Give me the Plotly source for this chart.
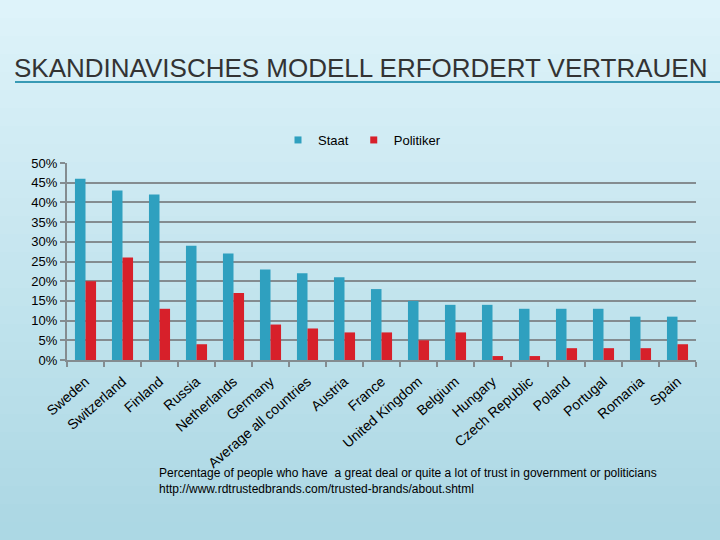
import plotly.graph_objects as go

countries = ["Sweden", "Switzerland", "Finland", "Russia", "Netherlands", "Germany",
             "Average all countries", "Austria", "France", "United Kingdom", "Belgium",
             "Hungary", "Czech Republic", "Poland", "Portugal", "Romania", "Spain"]
staat = [46, 43, 42, 29, 27, 23, 22, 21, 18, 15, 14, 14, 13, 13, 13, 11, 11]
politiker = [20, 26, 13, 4, 17, 9, 8, 7, 7, 5, 7, 1, 1, 3, 3, 3, 4]
y_ticks = [0, 5, 10, 15, 20, 25, 30, 35, 40, 45, 50]
y_tick_labels = [f"{v}%" for v in y_ticks]

title = "SKANDINAVISCHES MODELL ERFORDERT VERTRAUEN"
note1 = "Percentage of people who have  a great deal or quite a lot of trust in government or politicians"
note2 = "http://www.rdtrustedbrands.com/trusted-brands/about.shtml"

FONT = "Liberation Sans, Arial, sans-serif"
C_STAAT = "#2fa0bf"
C_POL = "#d7202a"
GRID = "#848c90"
W, H = 720, 540
L, R, T, B = 67, 24, 163, 180

fig = go.Figure()
fig.add_trace(go.Bar(name="Staat", x=countries, y=staat, marker_color=C_STAAT,
                     marker_line_width=0, showlegend=False))
fig.add_trace(go.Bar(name="Politiker", x=countries, y=politiker, marker_color=C_POL,
                     marker_line_width=0, showlegend=False))
# legend entries with small square markers
fig.add_trace(go.Scatter(name="Staat", x=[None], y=[None], mode="markers",
                         marker=dict(symbol="square", size=7, color=C_STAAT)))
fig.add_trace(go.Scatter(name="Politiker", x=[None], y=[None], mode="markers",
                         marker=dict(symbol="square", size=7, color=C_POL)))

pw = W - L - R
ph = H - T - B

def px(x):
    return (x - L) / pw

def py(y):
    return (H - B - y) / ph

shapes = []
# background gradient (light top, darker bottom)
n = 30
top = (222, 243, 250)
bot = (172, 216, 228)
for i in range(n):
    f = i / (n - 1)
    c = tuple(int(top[k] + (bot[k] - top[k]) * f) for k in range(3))
    y0 = i * H / n
    y1 = (i + 1) * H / n + 1
    shapes.append(dict(type="rect", xref="paper", yref="paper",
                       x0=px(0), x1=px(W), y0=py(y1), y1=py(y0),
                       fillcolor="rgb(%d,%d,%d)" % c, line_width=0, layer="below"))
# title underline
shapes.append(dict(type="line", xref="paper", yref="paper",
                   x0=px(15), x1=px(720), y0=py(82), y1=py(82),
                   line=dict(color="#3a9bb5", width=2)))

fig.update_layout(
    width=W, height=H,
    margin=dict(l=L, r=R, t=T, b=B, pad=0),
    paper_bgcolor="#d2ecf4",
    plot_bgcolor="rgba(0,0,0,0)",
    font=dict(family=FONT, color="#000000", size=13),
    barmode="group", bargap=0.43, bargroupgap=0.0,
    title=dict(text=title, x=14 / W, xanchor="left", xref="container",
               y=1 - 68 / H, yanchor="middle", yref="container",
               font=dict(family=FONT, size=26, color="#333333")),
    legend=dict(orientation="h", x=px(362), xanchor="center", y=py(140), yanchor="middle",
                font=dict(size=13), bgcolor="rgba(0,0,0,0)", itemwidth=30,
                traceorder="normal"),
    shapes=shapes,
    showlegend=True,
)

fig.update_yaxes(range=[0, 50], tickvals=y_ticks, ticktext=y_tick_labels,
                 showgrid=True, gridcolor=GRID, gridwidth=2,
                 showline=True, linecolor=GRID, linewidth=2,
                 ticks="outside", ticklen=5, tickcolor=GRID, tickwidth=2,
                 tickfont=dict(size=13), zeroline=False, fixedrange=True)
fig.update_xaxes(tickangle=-41, showline=True, linecolor=GRID, linewidth=2,
                 ticks="outside", ticklen=5, tickcolor=GRID, tickwidth=2,
                 ticklabelstandoff=6,
                 tickson="boundaries", tickfont=dict(size=14), showgrid=False,
                 fixedrange=True)

fig.add_annotation(text=note1 + "<br>" + note2, xref="paper", yref="paper",
                   x=px(157), y=py(464), xanchor="left", yanchor="top", align="left",
                   showarrow=False, font=dict(size=12, color="#000000"))

fig.write_html("out.html", config={"displayModeBar": False},
               post_script="document.body.style.margin='0';document.body.style.overflow='hidden';")
